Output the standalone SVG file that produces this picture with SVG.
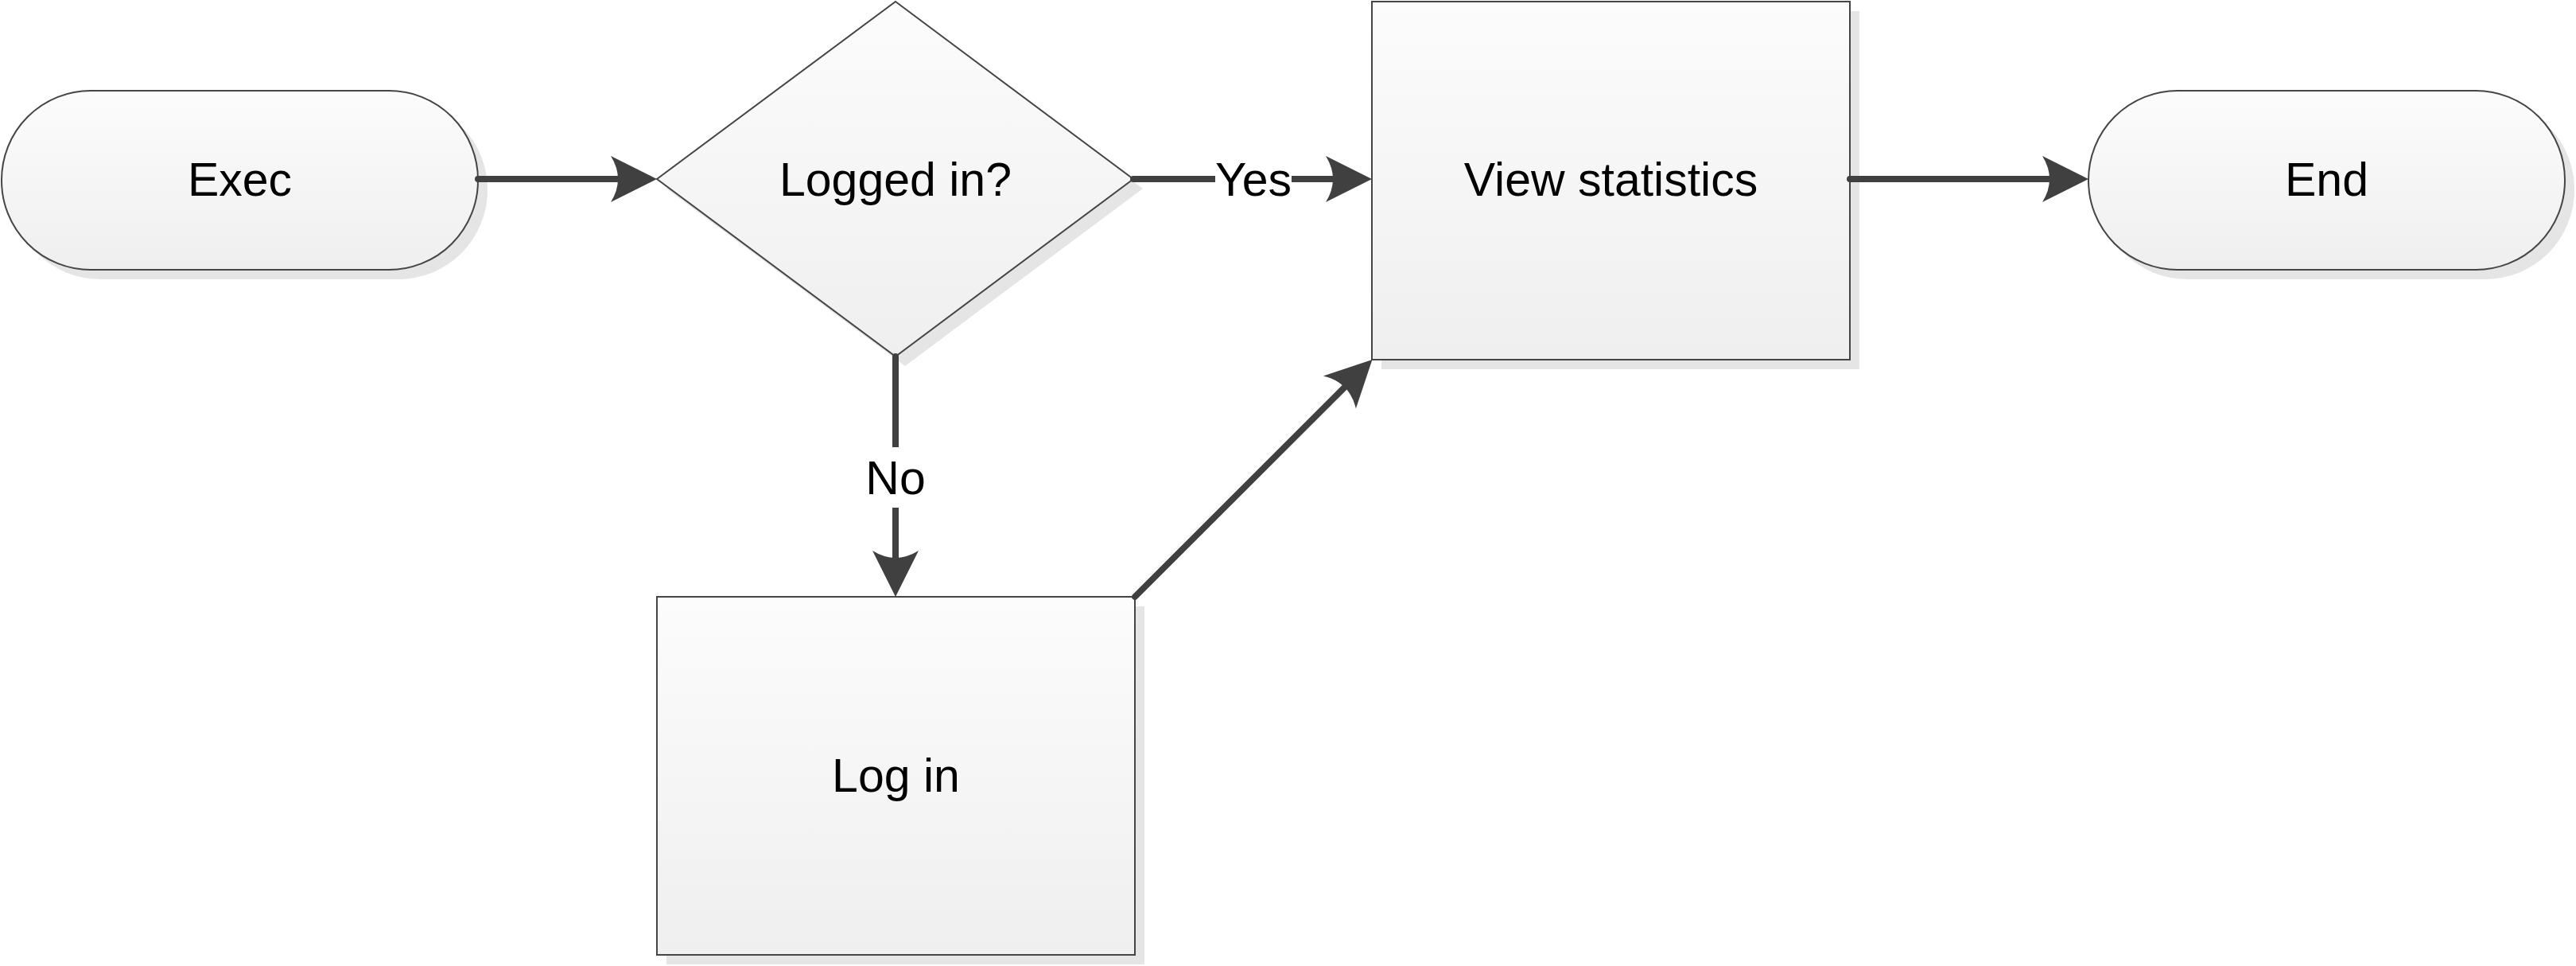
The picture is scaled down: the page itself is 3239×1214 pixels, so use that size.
<svg xmlns="http://www.w3.org/2000/svg" width="3239" height="1214" viewBox="0 0 3239 1214">
<defs>
<linearGradient id="fillGrad" x1="0" y1="0" x2="0" y2="1">
<stop offset="0" stop-color="#fcfcfc"/>
<stop offset="1" stop-color="#efefef"/>
</linearGradient>
<marker id="arrow" markerUnits="userSpaceOnUse" markerWidth="92" markerHeight="64" viewBox="-90 -32 92 64" refX="-30" refY="0" orient="auto">
<path d="M0,0 L-58,-29 Q-40,0 -58,29 Z" fill="#404040"/>
</marker>
</defs>
<style>
.shape{fill:url(#fillGrad);stroke:#454545;stroke-width:2}
.shadow{fill:#e5e5e5;stroke:none}
.label{font-family:"Liberation Sans",Arial,sans-serif;font-size:59px;fill:#000;text-anchor:middle}
.conn{fill:none;stroke:#404040;stroke-width:8;stroke-linecap:round}
.bg{fill:#fff}
</style>
<rect width="3239" height="1214" fill="#fff"/>

<g id="node-exec">
<rect class="shadow" x="14" y="126" width="599" height="225" rx="112" ry="112"/>
<rect class="shape" x="2" y="114" width="599" height="225" rx="112" ry="112"/>
<text class="label" x="301.5" y="246">Exec</text>
</g>

<g id="node-logged-in">
<polygon class="shadow" points="1138,14 1437,237 1138,460 838,237"/>
<polygon class="shape" points="1126,2 1425,225 1126,448 826,225"/>
<text class="label" x="1126" y="246">Logged in?</text>
</g>

<g id="node-view-statistics">
<rect class="shadow" x="1737" y="14" width="601" height="450"/>
<rect class="shape" x="1725" y="2" width="601" height="450"/>
<text class="label" x="2025.5" y="246">View statistics</text>
</g>

<g id="node-end">
<rect class="shadow" x="2638" y="126" width="599" height="225" rx="112" ry="112"/>
<rect class="shape" x="2626" y="114" width="599" height="225" rx="112" ry="112"/>
<text class="label" x="2925.5" y="246">End</text>
</g>

<g id="node-log-in">
<rect class="shadow" x="838" y="762" width="601" height="450"/>
<rect class="shape" x="826" y="750" width="601" height="450"/>
<text class="label" x="1126.5" y="995">Log in</text>
</g>

<g id="connectors">
<path class="conn" d="M601,225 L796,225" marker-end="url(#arrow)"/>
<path class="conn" d="M1425,225 L1695,225" marker-end="url(#arrow)"/>
<rect class="bg" x="1528" y="190" width="96" height="70"/>
<text class="label" x="1576" y="246">Yes</text>
<path class="conn" d="M1126,448 L1126,720" marker-end="url(#arrow)"/>
<rect class="bg" x="1084" y="562" width="84" height="76"/>
<text class="label" x="1126" y="621">No</text>
<path class="conn" d="M1427,750 L1704.2,473.2" marker-end="url(#arrow)"/>
<path class="conn" d="M2326,225 L2596,225" marker-end="url(#arrow)"/>
</g>
</svg>
